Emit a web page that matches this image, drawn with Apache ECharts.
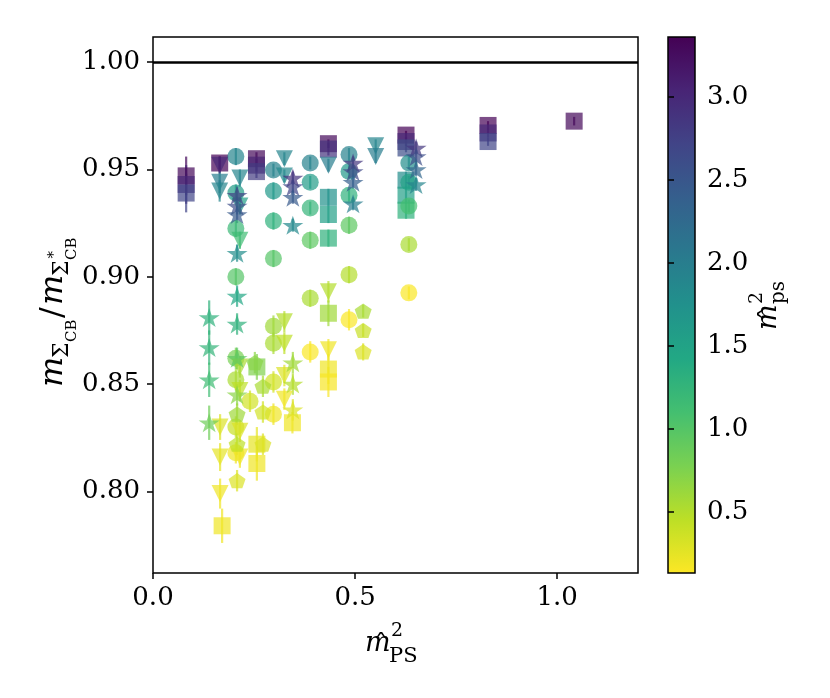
<!DOCTYPE html>
<html><head><meta charset="utf-8">
<script src="https://cdn.jsdelivr.net/npm/echarts@6/dist/echarts.min.js"></script>
<style>html,body{margin:0;padding:0;background:#fff}#c{width:830px;height:698px}</style>
</head><body><div id="c"></div>
<script>
// [x = m_PS^2, y = ratio, yerr, colour value m_ps^2]
const squares = [
  [0.082,0.947,0.009,3.30],[0.082,0.943,0.009,3.00],[0.082,0.939,0.009,2.70],
  [0.165,0.953,0.003,3.35],
  [0.256,0.955,0.003,3.30],[0.256,0.952,0.003,3.05],[0.256,0.949,0.003,2.80],
  [0.434,0.962,0.002,3.30],[0.434,0.9595,0.003,2.90],
  [0.434,0.937,0.004,1.75],[0.434,0.929,0.004,1.55],[0.434,0.918,0.004,1.30],
  [0.626,0.966,0.002,3.35],[0.626,0.963,0.002,3.00],[0.626,0.960,0.002,2.60],
  [0.626,0.945,0.004,1.80],[0.626,0.938,0.004,1.55],[0.626,0.931,0.004,1.30],
  [0.829,0.9705,0.002,3.35],[0.829,0.967,0.002,3.00],[0.829,0.963,0.002,2.70],
  [1.042,0.9725,0.002,3.30],
  [0.171,0.784,0.008,0.20],
  [0.257,0.858,0.006,0.75],[0.257,0.822,0.008,0.25],[0.257,0.813,0.008,0.20],
  [0.345,0.832,0.005,0.20],
  [0.434,0.883,0.006,0.60],[0.434,0.857,0.007,0.20],[0.434,0.851,0.007,0.17]
];
const circles = [
  [0.205,0.956,0.004,1.90],[0.205,0.939,0.004,1.60],[0.205,0.9225,0.004,1.20],[0.205,0.900,0.004,1.00],
  [0.205,0.862,0.005,0.80],[0.205,0.852,0.005,0.55],[0.205,0.830,0.005,0.40],[0.205,0.818,0.005,0.20],
  [0.240,0.842,0.005,0.35],
  [0.298,0.9497,0.003,1.95],[0.298,0.940,0.004,1.65],[0.298,0.926,0.004,1.30],[0.298,0.9085,0.004,1.00],
  [0.298,0.877,0.005,0.60],[0.298,0.869,0.005,0.55],[0.298,0.851,0.005,0.35],[0.298,0.836,0.005,0.20],
  [0.389,0.953,0.003,1.95],[0.389,0.944,0.003,1.60],[0.389,0.932,0.003,1.25],[0.389,0.917,0.004,0.95],
  [0.389,0.890,0.004,0.55],[0.389,0.865,0.005,0.15],
  [0.485,0.957,0.003,1.95],[0.485,0.949,0.003,1.65],[0.485,0.938,0.003,1.30],[0.485,0.924,0.004,0.95],
  [0.485,0.901,0.004,0.50],[0.485,0.880,0.005,0.15],
  [0.633,0.953,0.003,1.80],[0.633,0.944,0.003,1.50],[0.633,0.933,0.003,1.10],[0.633,0.915,0.003,0.55],
  [0.633,0.8925,0.003,0.15]
];
const trianglesDown = [
  [0.165,0.952,0.004,3.00],[0.165,0.944,0.005,2.00],[0.165,0.940,0.005,1.90],
  [0.166,0.830,0.006,0.30],[0.166,0.816,0.0065,0.25],[0.166,0.799,0.007,0.20],
  [0.215,0.946,0.004,1.90],[0.215,0.933,0.004,1.55],[0.215,0.917,0.004,1.15],
  [0.215,0.858,0.005,0.55],[0.215,0.847,0.005,0.45],[0.215,0.828,0.005,0.30],[0.215,0.816,0.005,0.20],
  [0.325,0.955,0.003,1.90],[0.325,0.947,0.003,1.85],
  [0.325,0.879,0.005,0.50],[0.325,0.869,0.005,0.45],[0.325,0.854,0.005,0.30],[0.325,0.843,0.005,0.20],
  [0.434,0.952,0.003,2.00],[0.434,0.893,0.005,0.50],[0.434,0.866,0.005,0.20],
  [0.551,0.961,0.003,1.90],[0.551,0.956,0.003,2.00]
];
const stars = [
  [0.139,0.881,0.008,1.30],[0.139,0.867,0.008,1.25],[0.139,0.852,0.008,1.15],[0.139,0.832,0.008,0.85],
  [0.208,0.938,0.004,2.75],[0.208,0.933,0.004,2.60],[0.208,0.929,0.004,2.45],[0.208,0.911,0.004,1.80],
  [0.208,0.891,0.005,1.45],[0.208,0.878,0.005,1.30],[0.208,0.862,0.005,0.95],[0.208,0.845,0.005,0.70],
  [0.346,0.946,0.003,2.90],[0.346,0.942,0.003,2.70],[0.346,0.937,0.003,2.45],[0.346,0.924,0.003,1.85],
  [0.346,0.860,0.005,0.60],[0.346,0.850,0.005,0.50],[0.346,0.838,0.005,0.30],
  [0.495,0.953,0.003,2.85],[0.495,0.949,0.003,2.65],[0.495,0.944,0.003,2.40],[0.495,0.934,0.003,2.00],
  [0.651,0.960,0.003,2.85],[0.651,0.956,0.003,2.60],[0.651,0.950,0.003,2.30],[0.651,0.943,0.003,1.90]
];
const pentagons = [
  [0.208,0.836,0.005,0.60],[0.208,0.822,0.005,0.45],[0.208,0.805,0.005,0.30],
  [0.252,0.860,0.005,0.70],
  [0.272,0.849,0.005,0.55],[0.272,0.837,0.005,0.35],[0.272,0.822,0.005,0.30],
  [0.520,0.884,0.003,0.55],[0.520,0.875,0.003,0.40],[0.520,0.865,0.004,0.30]
];
const xTicks = [0.0, 0.5, 1.0];
const yTicks = [0.80, 0.85, 0.90, 0.95, 1.00];
const cTicks = [0.5, 1.0, 1.5, 2.0, 2.5, 3.0];
const refLine = 1.0;
const cRange = [0.133, 3.361];
const viridis = ['#440154','#482475','#414487','#355f8d','#2a788e','#21918c','#22a884','#44bf70','#7ad151','#bddf26','#fde725'];

const SERIF = '"DejaVu Serif", serif';
const STAR = 'path://M50,0 L61.2,34.5 L97.6,34.5 L68.2,55.9 L79.4,90.5 L50,69.1 L20.6,90.5 L31.8,55.9 L2.4,34.5 L38.8,34.5 Z';
const PENT = 'path://M50,0 L97.6,34.5 L79.4,90.5 L20.6,90.5 L2.4,34.5 Z';
const TRI = 'path://M0,0 L100,0 L50,100 Z';

function errItem(params, api) {
  const x = api.value(0), y = api.value(1), e = api.value(2);
  const p1 = api.coord([x, y - e]), p2 = api.coord([x, y + e]);
  return {type: 'line', shape: {x1: p1[0], y1: p1[1], x2: p2[0], y2: p2[1]},
          style: {stroke: api.visual('color'), lineWidth: 2.2, opacity: 0.7}};
}
const groups = [
  {data: squares, symbol: 'rect', size: 17},
  {data: circles, symbol: 'circle', size: 17},
  {data: trianglesDown, symbol: TRI, size: 17},
  {data: stars, symbol: STAR, size: [21, 20]},
  {data: pentagons, symbol: PENT, size: [17, 16]}
];
const series = [];
groups.forEach(g => {
  series.push({type: 'custom', renderItem: errItem, data: g.data, encode: {x: 0, y: 1}, z: 2, silent: true});
});
groups.forEach(g => {
  series.push({type: 'scatter', data: g.data, symbol: g.symbol, symbolSize: g.size, symbolKeepAspect: true,
    encode: {x: 0, y: 1}, itemStyle: {opacity: 0.7}, z: 3, silent: true});
});
series[series.length - 1].markLine = {silent: true, symbol: 'none', label: {show: false},
  lineStyle: {color: '#000', width: 2.5, type: 'solid', opacity: 1}, data: [{yAxis: refLine}]};

function tx(text, x, baseline, size, italic, align) {
  return {type: 'text', x: x, y: baseline - 0.346 * size,
    style: {text: text, fontSize: size, fontFamily: SERIF, fontStyle: italic ? 'italic' : 'normal',
            fill: '#000', align: align || 'left', verticalAlign: 'middle'}};
}
const axisFont = {fontSize: 26, fontFamily: SERIF, color: '#000'};

const option = {
  animation: false,
  backgroundColor: '#fff',
  grid: [
    {left: 153, top: 37, width: 485, height: 536, show: true, borderColor: '#000', borderWidth: 1.5, backgroundColor: 'transparent'},
    {left: 668, top: 37, width: 27, height: 536, show: false}
  ],
  xAxis: [
    {type: 'value', gridIndex: 0, min: 0, max: 1.2,
     axisLine: {show: false}, splitLine: {show: false},
     axisTick: {show: true, length: 6, lineStyle: {color: '#000', width: 1.5}, customValues: xTicks},
     axisLabel: Object.assign({margin: 12, formatter: v => v.toFixed(1), customValues: xTicks}, axisFont)},
    {type: 'value', gridIndex: 1, min: 0, max: 1, show: false}
  ],
  yAxis: [
    {type: 'value', gridIndex: 0, min: 0.762, max: 1.0117,
     axisLine: {show: false}, splitLine: {show: false},
     axisTick: {show: true, length: 6, lineStyle: {color: '#000', width: 1.5}, customValues: yTicks},
     axisLabel: Object.assign({margin: 13, formatter: v => v.toFixed(2), customValues: yTicks}, axisFont)},
    {type: 'value', gridIndex: 1, position: 'right', min: cRange[0], max: cRange[1],
     axisLine: {show: false}, splitLine: {show: false},
     axisTick: {show: true, length: 6, lineStyle: {color: '#000', width: 1.5}, customValues: cTicks},
     axisLabel: Object.assign({margin: 12, formatter: v => v.toFixed(1), customValues: cTicks}, axisFont)}
  ],
  visualMap: {type: 'continuous', show: false, min: cRange[0], max: cRange[1], dimension: 3,
    seriesIndex: series.map((s, i) => i), inRange: {color: viridis.slice().reverse()}},
  graphic: [
    {type: 'rect', shape: {x: 668, y: 37, width: 27, height: 536},
     style: {fill: new echarts.graphic.LinearGradient(0, 0, 0, 1,
       viridis.map((c, i) => ({offset: i / (viridis.length - 1), color: c}))), stroke: '#000', lineWidth: 1.5}},
    // x-axis title
    tx('m', 365, 653, 27, true),
    tx('\u02C6', 381, 656, 28, false, 'center'),
    tx('2', 391, 638, 19),
    tx('PS', 389, 664, 21),
    // y-axis title (rotated)
    {type: 'group', x: 65, y: 387, rotation: Math.PI / 2, children: [
      tx('m', 0, 0, 32, true),
      tx('\u03A3', 29, 5, 22),
      tx('CB', 45, 12, 15),
      tx('/', 69, 0, 32),
      tx('m', 82, 0, 32, true),
      tx('\u03A3', 111, 5, 22),
      tx('\u2217', 127, -9, 15),
      tx('CB', 127, 12, 15)
    ]},
    // colorbar title (rotated)
    {type: 'group', x: 778, y: 330, rotation: Math.PI / 2, children: [
      tx('m', 0, 0, 27, true),
      tx('\u02C6', 16, 3, 28, false, 'center'),
      tx('2', 26, -14, 19),
      tx('ps', 26, 8, 20)
    ]}
  ],
  series: series
};
echarts.init(document.getElementById('c'), null, {renderer: 'canvas'}).setOption(option);
</script></body></html>
